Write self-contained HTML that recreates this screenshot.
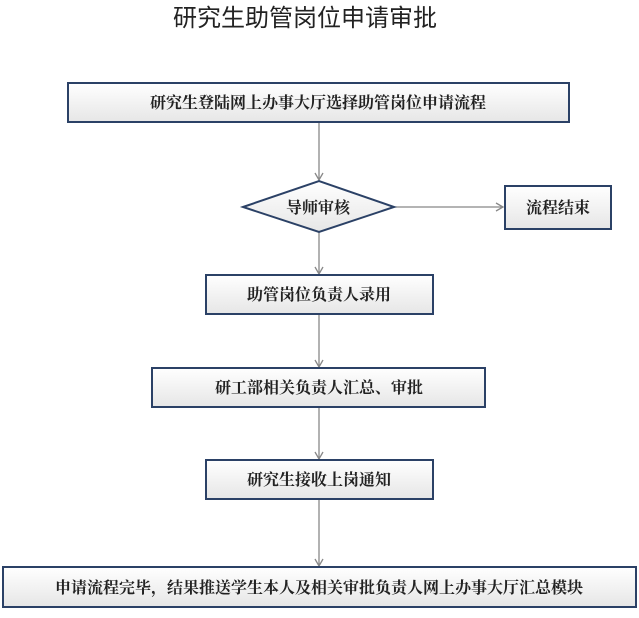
<!DOCTYPE html>
<html><head><meta charset="utf-8"><style>
body{margin:0;background:#fff;width:639px;height:613px;overflow:hidden}
svg text{font-family:"Liberation Serif","Noto Serif CJK SC","Noto Sans CJK SC",serif;fill:#222}
</style></head><body>
<svg width="639" height="613" viewBox="0 0 639 613" xmlns="http://www.w3.org/2000/svg">
<defs>
<linearGradient id="g" x1="0" y1="0" x2="0" y2="1"><stop offset="0" stop-color="#ffffff"/><stop offset="1" stop-color="#e6e6e6"/></linearGradient>
<marker id="a" markerWidth="10" markerHeight="10" refX="8" refY="5" orient="auto" markerUnits="userSpaceOnUse"><path d="M1,1 L8,5 L1,9" fill="none" stroke="#888" stroke-width="1.3"/></marker>
</defs>
<text x="305" y="26" font-size="24" text-anchor="middle" style="font-family:'Liberation Sans','Noto Sans CJK SC',sans-serif">研究生助管岗位申请审批</text>
<g stroke="#888" stroke-width="1.3" fill="none">
<line x1="319" y1="123" x2="319" y2="180" marker-end="url(#a)"/>
<line x1="394" y1="207" x2="503" y2="207" marker-end="url(#a)"/>
<line x1="319" y1="232" x2="319" y2="274" marker-end="url(#a)"/>
<line x1="319" y1="315" x2="319" y2="367" marker-end="url(#a)"/>
<line x1="319" y1="408" x2="319" y2="459" marker-end="url(#a)"/>
<line x1="319" y1="500" x2="319" y2="566" marker-end="url(#a)"/>
</g>
<g fill="url(#g)" stroke="#2b4166" stroke-width="2">
<rect x="68" y="83" width="501" height="39"/>
<polygon points="243,207 319,181 394,207 319,232"/>
<rect x="505" y="186" width="106" height="43"/>
<rect x="206" y="275" width="227" height="39"/>
<rect x="152" y="368" width="333" height="39"/>
<rect x="206" y="460" width="227" height="39"/>
<rect x="3" y="567" width="633" height="40"/>
</g>
<g font-size="16" font-weight="bold" text-anchor="middle">
<text x="318" y="108">研究生登陆网上办事大厅选择助管岗位申请流程</text>
<text x="318" y="213">导师审核</text>
<text x="558" y="213">流程结束</text>
<text x="319" y="300">助管岗位负责人录用</text>
<text x="319" y="393">研工部相关负责人汇总、审批</text>
<text x="319" y="485">研究生接收上岗通知</text>
<text x="319" y="593">申请流程完毕，结果推送学生本人及相关审批负责人网上办事大厅汇总模块</text>
</g>
</svg>
</body></html>
